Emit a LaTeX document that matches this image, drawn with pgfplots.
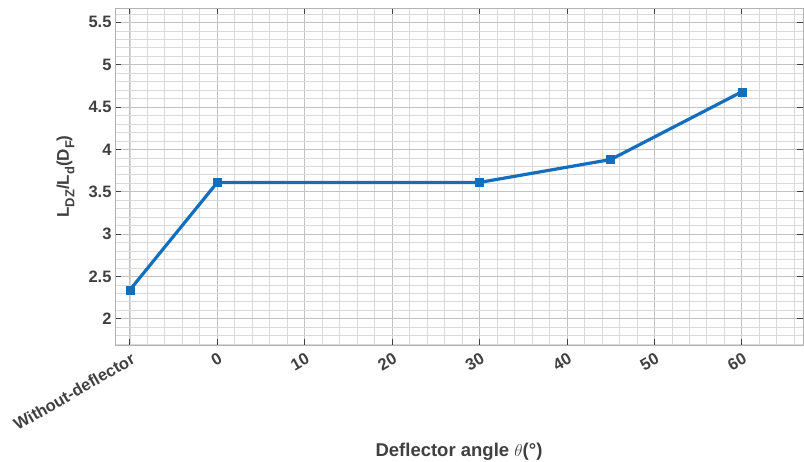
\documentclass[border=0pt]{standalone}
\usepackage{pgfplots}
\pgfplotsset{compat=1.18}
\usepackage{fontspec}
\setmainfont{Liberation Sans}
\definecolor{txt}{RGB}{64,64,64}
\definecolor{mblue}{RGB}{20,110,190}
\newcommand{\sub}[1]{\raisebox{-0.32em}{\fontsize{13}{15}\selectfont\bfseries #1}}
\begin{document}
\begin{tikzpicture}
\useasboundingbox (-115pt,-117pt) rectangle (689pt,345pt);
\begin{axis}[
  scale only axis, width=688pt, height=337pt,
  xmin=-11.7, xmax=67, ymin=1.69, ymax=5.67,
  xtick={-10,0,10,20,30,40,50,60},
  xticklabels={Without-deflector,0,10,20,30,40,50,60},
  minor xtick={-10,-8,...,66},
  ytick={2,2.5,3,3.5,4,4.5,5,5.5},
  yticklabels={2,2.5,3,3.5,4,4.5,5,5.5},
  minor ytick={1.7,1.8,1.9,2.1,2.2,2.3,2.4,2.6,2.7,2.8,2.9,3.1,3.2,3.3,3.4,3.6,3.7,3.8,3.9,4.1,4.2,4.3,4.4,4.6,4.7,4.8,4.9,5.1,5.2,5.3,5.4,5.6},
  grid=both,
  major grid style={gray!48, line width=0.8pt},
  minor grid style={gray!30, line width=0.7pt},
  tick align=inside,
  major tick length=6pt, minor tick length=0pt,
  axis line style={gray!60, line width=0.8pt},
  major tick style={black!75, line width=0.8pt},
  /pgf/number format/assume math mode=true,
  ticklabel style={font=\fontsize{16.5}{19}\selectfont\bfseries, text=txt},
  xticklabel style={rotate=30, anchor=north east, yshift=-3pt},
  xlabel={Deflector angle $\theta$(°)},
  ylabel={L\sub{DZ}/L\sub{d}(D\sub{F})},
  xlabel style={font=\fontsize{18.5}{21}\selectfont\bfseries, text=txt,
    at={(axis description cs:0.5,-0.318)}, anchor=center},
  ylabel style={font=\fontsize{17}{20}\selectfont\bfseries, text=txt,
    at={(axis description cs:-0.072,0.5)}, anchor=center},
]
\addplot[mblue, line width=3.2pt, mark=square*, mark size=4pt,
  mark options={line width=0.4pt, fill=mblue}] coordinates {
  (-10,2.34) (0,3.61) (30,3.61) (45,3.88) (60,4.68)
};
\end{axis}
\end{tikzpicture}
\end{document}
